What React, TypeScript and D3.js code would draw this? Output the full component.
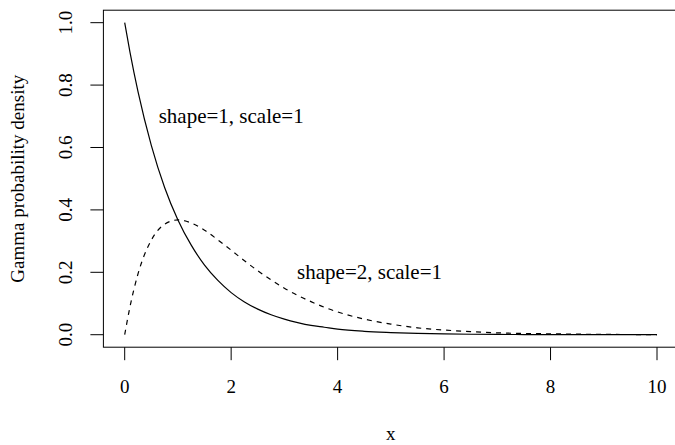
import React from "react";
import * as d3 from "d3";

// Sample positions along the x axis
const xs = [0, 0.1, 0.25, 0.5, 0.75, 1, 1.25, 1.5, 1.75, 2, 2.25, 2.5, 2.75, 3, 3.25, 3.5, 3.75, 4, 4.5, 5, 5.5, 6, 6.5, 7, 7.5, 8, 9, 10];
// Density, shape=1, scale=1
const densShape1 = [1.0, 0.905, 0.779, 0.607, 0.472, 0.368, 0.287, 0.223, 0.174, 0.135, 0.105, 0.082, 0.064, 0.05, 0.039, 0.03, 0.024, 0.018, 0.011, 0.007, 0.004, 0.0025, 0.0015, 0.0009, 0.0006, 0.0003, 0.0001, 0.0];
// Density, shape=2, scale=1
const densShape2 = [0.0, 0.09, 0.195, 0.303, 0.354, 0.368, 0.358, 0.335, 0.304, 0.271, 0.237, 0.205, 0.176, 0.149, 0.126, 0.106, 0.088, 0.073, 0.05, 0.034, 0.022, 0.015, 0.01, 0.006, 0.004, 0.003, 0.001, 0.0005];

const xTicks = [0, 2, 4, 6, 8, 10];
const yTicks = [0, 0.2, 0.4, 0.6, 0.8, 1.0];

const labels = [
  { text: "shape=1, scale=1", x: 2, y: 0.7 },
  { text: "shape=2, scale=1", x: 4.6, y: 0.2 },
];

const W = 675;
const H = 445;
const FONT = "'Liberation Serif', 'Times New Roman', serif";

export default function App() {
  const x = d3.scaleLinear().domain([-0.4, 10.4]).range([103.4, 678.3]);
  const y = d3.scaleLinear().domain([-0.04, 1.04]).range([347.2, 10.2]);

  const line = d3
    .line<number>()
    .x((_, i) => x(xs[i]))
    .y((d) => y(d))
    .curve(d3.curveMonotoneX);

  const [x0, x1] = x.range();
  const [y0, y1] = y.range();

  return (
    <svg
      width={W}
      height={H}
      style={{ position: "absolute", left: 0, top: 0, background: "#fff" }}
      fontFamily={FONT}
    >
      {/* plot box */}
      <rect x={x0} y={y1} width={x1 - x0} height={y0 - y1} fill="none" stroke="#000" strokeWidth={1} />

      {/* x axis */}
      {xTicks.map((t) => (
        <g key={"xt" + t}>
          <line x1={x(t)} x2={x(t)} y1={y0} y2={y0 + 13} stroke="#000" strokeWidth={1} />
          <text x={x(t)} y={392.5} textAnchor="middle" fontSize={19}>
            {t}
          </text>
        </g>
      ))}

      {/* y axis */}
      {yTicks.map((t) => (
        <g key={"yt" + t}>
          <line x1={x0 - 13} x2={x0} y1={y(t)} y2={y(t)} stroke="#000" strokeWidth={1} />
          <text
            transform={`translate(72,${y(t)}) rotate(-90)`}
            textAnchor="middle"
            fontSize={19}
          >
            {t.toFixed(1)}
          </text>
        </g>
      ))}

      {/* axis titles */}
      <text x={(x0 + x1) / 2} y={440} textAnchor="middle" fontSize={19}>
        x
      </text>
      <text
        transform={`translate(24,${(y0 + y1) / 2}) rotate(-90)`}
        textAnchor="middle"
        fontSize={19}
      >
        Gamma probability density
      </text>

      {/* density curves */}
      <path d={line(densShape1) ?? ""} fill="none" stroke="#000" strokeWidth={1.2} />
      <path
        d={line(densShape2) ?? ""}
        fill="none"
        stroke="#000"
        strokeWidth={1.2}
        strokeDasharray="5,5"
      />

      {/* curve annotations */}
      {labels.map((l) => (
        <text key={l.text} x={x(l.x)} y={y(l.y)} dy="0.33em" textAnchor="middle" fontSize={21}>
          {l.text}
        </text>
      ))}
    </svg>
  );
}
